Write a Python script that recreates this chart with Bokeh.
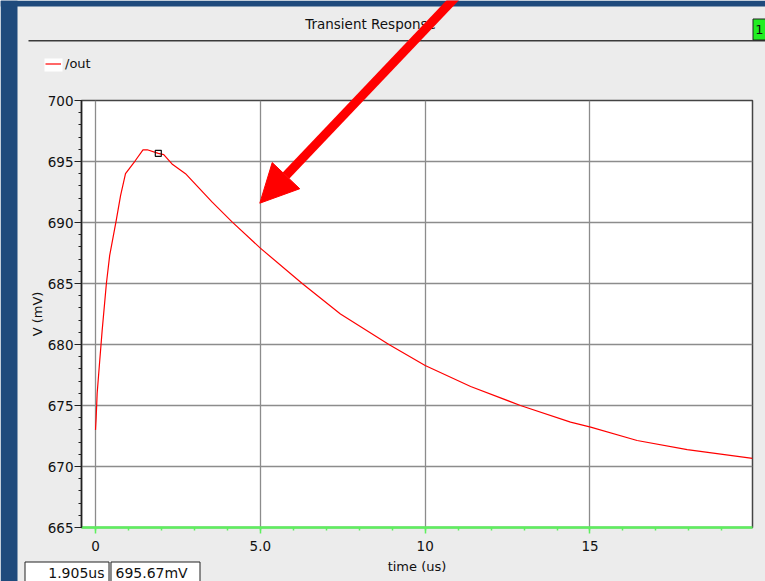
from bokeh.plotting import figure
from bokeh.models import (Range1d, FixedTicker, Arrow, NormalHead, Legend,
                          LegendItem, GridBox)
from bokeh.core.properties import value
from bokeh.embed import file_html
from bokeh.resources import INLINE

# transient waveform of node /out (time in us, voltage in mV)
time_us = [0, 0.02, 0.05, 0.12, 0.2, 0.33, 0.43, 0.63, 0.76, 0.91, 1.21, 1.44, 1.57,
           1.905, 2.07, 2.32, 2.73, 3.54, 4.15, 5.0, 6.27, 7.43, 8.9, 10.0, 11.38,
           12.89, 14.41, 15.02, 16.43, 17.95, 19.93]
out_mv = [673.0, 674.0, 676.0, 678.4, 681.1, 685.0, 687.3, 690.2, 692.2, 694.0,
          695.08, 695.96, 695.96, 695.67, 695.57, 694.8, 694.0, 691.67, 690.03, 687.9,
          685.0, 682.5, 680.0, 678.28, 676.56, 675.0, 673.64, 673.23, 672.13, 671.39,
          670.66]

# cursor position
marker_t = [1.905]
marker_v = [695.67]

x_ticks = [0, 5, 10, 15]
x_tick_labels = {0: "0", 5: "5.0", 10: "10", 15: "15"}
y_ticks = [665, 670, 675, 680, 685, 690, 695, 700]

FONT = "DejaVu Sans"
PANEL = "#ececec"
FRAME_BLUE = "#1f4a7c"
AXIS_GREEN = "#5ef05e"
GRID = "#8c8c8c"
INK = "#111111"
TRACE = "#ff0000"
W, H = 765, 581

# ---------------- waveform chart ----------------
chart = figure(width=W, height=H, output_backend="svg", toolbar_location=None,
               x_range=Range1d(-0.425, 19.93), y_range=Range1d(665, 700),
               min_border_left=81, min_border_right=13, min_border_top=100,
               min_border_bottom=54)
chart.frame_align = False
chart.border_fill_color = PANEL
chart.background_fill_color = "white"
chart.outline_line_color = "#444444"
chart.outline_line_width = 1.5

chart.xaxis.ticker = FixedTicker(ticks=x_ticks, minor_ticks=list(range(0, 20)))
chart.xaxis.major_label_overrides = x_tick_labels
chart.yaxis.ticker = FixedTicker(ticks=y_ticks, minor_ticks=list(range(665, 701)))
chart.xaxis.axis_label = "time (us)"
chart.yaxis.axis_label = "V (mV)"
for ax in (chart.xaxis[0], chart.yaxis[0]):
    ax.axis_label_text_font = FONT
    ax.axis_label_text_font_size = "13px"
    ax.axis_label_text_font_style = "normal"
    ax.axis_label_text_color = INK
    ax.major_label_text_font = FONT
    ax.major_label_text_font_size = "13.5px"
    ax.major_label_text_color = INK
    ax.major_tick_in = 0
    ax.minor_tick_in = 0
chart.xaxis.axis_line_color = AXIS_GREEN
chart.xaxis.axis_line_width = 2.5
chart.xaxis.major_tick_line_color = AXIS_GREEN
chart.xaxis.minor_tick_line_color = AXIS_GREEN
chart.xaxis.major_tick_line_width = 1.5
chart.xaxis.minor_tick_line_width = 1.5
chart.xaxis.major_tick_out = 6
chart.xaxis.minor_tick_out = 3
chart.xaxis.major_label_standoff = 7
chart.xaxis.axis_label_standoff = 5
chart.yaxis.axis_line_color = "#222222"
chart.yaxis.axis_line_width = 1.5
chart.yaxis.major_tick_line_color = "#222222"
chart.yaxis.minor_tick_line_color = "#222222"
chart.yaxis.major_tick_out = 7
chart.yaxis.minor_tick_out = 3
chart.yaxis.major_label_standoff = 1
chart.yaxis.axis_label_standoff = 0

chart.xgrid.grid_line_color = GRID
chart.ygrid.grid_line_color = GRID
chart.xgrid.grid_line_width = 1.3
chart.ygrid.grid_line_width = 1.3

chart.line(time_us, out_mv, line_color=TRACE, line_width=1.2)
chart.scatter(marker_t, marker_v, marker="square", size=6, fill_alpha=0,
              line_color=INK, line_width=1.2)

# ---------------- window decorations (pixel space, y downwards) ----------------
deco = figure(width=W, height=H, output_backend="svg", toolbar_location=None,
              x_range=Range1d(0, W), y_range=Range1d(H, 0),
              x_axis_type=None, y_axis_type=None,
              min_border_left=0, min_border_right=0, min_border_top=0,
              min_border_bottom=0)
deco.frame_align = False
deco.background_fill_alpha = 0
deco.border_fill_alpha = 0
deco.outline_line_color = None

# blue desktop strips
deco.quad(left=[0, 0], right=[17, W], top=[0, 0], bottom=[H, 6],
          fill_color=FRAME_BLUE, line_color=None)
# title and separator
deco.quad(left=[28], right=[W], top=[39.5], bottom=[41], fill_color="#3a3a3a",
          line_color=None)
deco.text([370], [23], text=["Transient Response"], text_align="center",
          text_baseline="middle", text_font=value(FONT), text_font_size="13.5px",
          text_color=INK)
# subwindow number badge
deco.quad(left=[752.5], right=[766], top=[18.5], bottom=[39.5], fill_color="#22ee22",
          line_color="#222222", line_width=1)
deco.text([759], [29], text=["1"], text_align="center", text_baseline="middle",
          text_font=value(FONT), text_font_size="13px", text_color=INK)

# legend for the /out trace; the key renderer sits off-canvas and only styles the swatch
deco.quad(left=[44], right=[62], top=[58], bottom=[71], fill_color="white",
          line_color=None)
key = deco.line([-60, -40], [-60, -60], line_color=TRACE, line_width=1.2)
legend = Legend(items=[LegendItem(label="/out", renderers=[key])],
                location=(45, 510), padding=0, margin=0, spacing=0,
                glyph_width=16, glyph_height=13, label_height=13, label_standoff=4,
                label_text_font=FONT, label_text_font_size="13px",
                label_text_color=INK, label_text_baseline="middle",
                background_fill_alpha=0, border_line_alpha=0)
deco.add_layout(legend, "center")

# cursor readout
deco.quad(left=[24.5, 110.5], right=[108.5, 199.5], top=[561.5, 561.5],
          bottom=[590, 590], fill_color="white", line_color="#222222", line_width=1)
deco.text([104], [572], text=[f"{marker_t[0]:.3f}us"], text_align="right",
          text_baseline="middle", text_font=value(FONT), text_font_size="14px",
          text_color=INK)
deco.text([115], [572], text=[f"{marker_v[0]:.2f}mV"], text_align="left",
          text_baseline="middle", text_font=value(FONT), text_font_size="14px",
          text_color=INK)

# red pointer onto the decay
deco.add_layout(Arrow(end=NormalHead(size=38, fill_color=TRACE, line_color=TRACE),
                      x_start=461.5, y_start=-10, x_end=259.3, y_end=202.7,
                      line_color=TRACE, line_width=9))

page = GridBox(children=[(chart, 0, 0), (deco, 0, 0)], width=W, height=H)

open("out.html", "w").write(file_html(page, INLINE))
